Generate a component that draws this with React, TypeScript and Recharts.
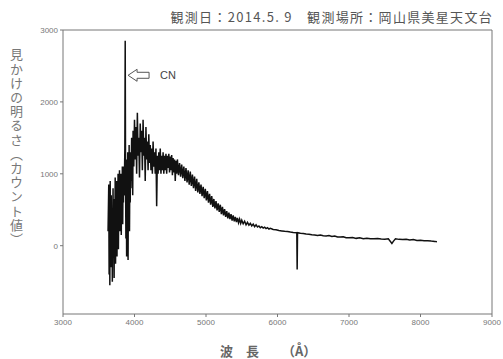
import { LineChart, Line, XAxis, YAxis, ReferenceLine, ReferenceDot } from "recharts";

// wavelength (Å) and apparent brightness (count)
const wavelengths = [
  3630, 3640, 3645, 3650, 3655, 3660, 3665, 3670, 3675, 3680, 3685, 3690, 3695,
  3700, 3705, 3710, 3715, 3720, 3725, 3730, 3735, 3740, 3745, 3750, 3755, 3760,
  3765, 3770, 3775, 3780, 3785, 3790, 3795, 3800, 3805, 3810, 3815, 3820, 3825,
  3830, 3835, 3840, 3845, 3850, 3855, 3860, 3865, 3870, 3875, 3880, 3885, 3890,
  3895, 3900, 3905, 3910, 3915, 3920, 3925, 3930, 3935, 3940, 3945, 3950, 3960,
  3965, 3970, 3975, 3980, 3990, 4000, 4010, 4020, 4030, 4040, 4050, 4060, 4070,
  4080, 4090, 4100, 4110, 4120, 4130, 4140, 4150, 4160, 4170, 4180, 4190, 4200,
  4210, 4220, 4230, 4240, 4250, 4260, 4270, 4280, 4290, 4300, 4310, 4320, 4330,
  4340, 4350, 4360, 4370, 4380, 4390, 4400, 4410, 4420, 4430, 4440, 4450, 4460,
  4470, 4480, 4490, 4500, 4510, 4520, 4530, 4540, 4550, 4560, 4570, 4580, 4590,
  4600, 4615, 4630, 4645, 4660, 4675, 4690, 4705, 4720, 4735, 4750, 4765, 4780,
  4795, 4810, 4825, 4840, 4855, 4870, 4885, 4900, 4915, 4930, 4945, 4960, 4975,
  4990, 5005, 5020, 5035, 5050, 5065, 5080, 5095, 5110, 5125, 5140, 5155, 5170,
  5185, 5200, 5215, 5230, 5245, 5260, 5275, 5290, 5305, 5320, 5335, 5350, 5365,
  5380, 5395, 5410, 5425, 5440, 5455, 5470, 5485, 5500, 5520, 5540, 5560, 5580,
  5600, 5620, 5640, 5660, 5680, 5700, 5720, 5740, 5760, 5780, 5800, 5820, 5840,
  5860, 5880, 5900, 5940, 5980, 6020, 6060, 6100, 6140, 6180, 6220, 6270, 6275,
  6280, 6320, 6360, 6400, 6440, 6480, 6520, 6560, 6600, 6640, 6680, 6720, 6760,
  6800, 6840, 6880, 6920, 6960, 7000, 7050, 7100, 7150, 7200, 7250, 7300, 7350,
  7400, 7450, 7500, 7550, 7600, 7620, 7650, 7700, 7750, 7800, 7850, 7900, 7950,
  8000, 8050, 8100, 8150, 8200, 8230,
];

const counts = [
  200, 850, -400, 600, -550, 900, 100, -300, 700, -200, 500, -500, 300,
  800, -100, 400, -450, 650, 0, 950, -250, 500, 200, 900, -150, 600,
  100, 1000, -50, 700, 300, 1050, 200, 800, 400, 1000, 150, 850, 500,
  1100, 300, 950, 600, 1100, 700, 1000, 1350, 2850, 900, 100, 1200, -150,
  800, 300, 1300, -200, 1000, 400, 1400, 200, 1100, 600, 1300, 800, 1500,
  900, 1400, 700, 1600, 1100, 1750, 1200, 1650, 1000, 1850, 1250, 1500, 950,
  1700, 1300, 1600, 1050, 1750, 1250, 1500, 900, 1650, 1200, 1450, 1050, 1550,
  1150, 1400, 1050, 1350, 1000, 1450, 1100, 1300, 1000, 1350, 550, 1250, 1000,
  1300, 1050, 1350, 1000, 1250, 1050, 1300, 1000, 1250, 1050, 1280, 1000, 1250,
  1080, 1280, 1020, 1240, 1050, 1260, 980, 1220, 1020, 1200, 900, 1180, 1000,
  1200, 980, 1150, 960, 1130, 940, 1100, 900, 1080, 880, 1050, 850, 1030,
  830, 990, 800, 960, 760, 930, 740, 880, 720, 850, 690, 820, 660,
  790, 630, 760, 600, 720, 570, 690, 540, 650, 520, 620, 490, 590,
  470, 570, 440, 540, 420, 510, 400, 480, 380, 460, 370, 440, 350,
  420, 340, 400, 330, 385, 320, 370, 310, 355, 305, 340, 290, 325,
  285, 310, 275, 300, 265, 290, 260, 275, 250, 265, 245, 258, 238,
  250, 232, 242, 225, 222, 212, 206, 200, 196, 190, 185, 180, -330,
  180, 172, 170, 162, 160, 152, 150, 142, 150, 138, 135, 140, 128,
  135, 122, 120, 125, 112, 110, 115, 102, 110, 98, 105, 96, 95,
  100, 92, 90, 95, 30, 60, 95, 88, 85, 90, 78, 85, 72,
  75, 68, 70, 64, 60, 55,
];

const xTicks = [3000, 4000, 5000, 6000, 7000, 8000, 9000];
const yTicks = [0, 1000, 2000, 3000];

const data = wavelengths.map((w, i) => ({ wavelength: w, count: counts[i] }));

const tickStyle = { fontSize: 8, fill: "#777", fontFamily: "Liberation Sans, sans-serif" };

// outlined arrow pointing at the CN band, with its label
function CnArrow(props: { cx?: number; cy?: number }) {
  const { cx = 0, cy = 0 } = props;
  const pts = [
    [0, 0], [9, -6], [9, -3], [21, -3], [21, 3], [9, 3], [9, 6],
  ]
    .map(([dx, dy]) => `${cx + dx},${cy + dy}`)
    .join(" ");
  return (
    <g>
      <polygon points={pts} fill="#fff" stroke="#555" strokeWidth={1} />
      <text
        x={cx + 32}
        y={cy + 4}
        fontSize={11}
        fill="#444"
        fontFamily="Liberation Sans, sans-serif"
      >
        CN
      </text>
    </g>
  );
}

export default function App() {
  return (
    <div style={{ position: "absolute", left: 0, top: 0, width: 503, height: 359, background: "#fff" }}>
      <div
        style={{
          position: "absolute",
          right: 10,
          top: 7,
          fontSize: 13,
          letterSpacing: 1.3,
          color: "#555",
          fontFamily: "Noto Sans CJK JP, sans-serif",
          whiteSpace: "nowrap",
        }}
      >
        観測日：2014.5. 9　観測場所：岡山県美星天文台
      </div>
      <div
        style={{
          position: "absolute",
          left: 9,
          top: 48,
          writingMode: "vertical-rl",
          fontSize: 13,
          letterSpacing: 1.2,
          lineHeight: "15px",
          color: "#777",
          fontFamily: "Noto Sans CJK JP, sans-serif",
        }}
      >
        見かけの明るさ（カウント値）
      </div>
      <div
        style={{
          position: "absolute",
          left: 220,
          top: 341,
          fontSize: 13,
          color: "#666",
          fontWeight: "bold",
          fontFamily: "Noto Sans CJK JP, sans-serif",
          whiteSpace: "nowrap",
        }}
      >
        波　長
      </div>
      <div
        style={{
          position: "absolute",
          left: 282,
          top: 341,
          fontSize: 13,
          color: "#666",
          fontWeight: "bold",
          fontFamily: "Noto Sans CJK JP, sans-serif",
          whiteSpace: "nowrap",
        }}
      >
        （Å）
      </div>
      <LineChart
        width={503}
        height={359}
        data={data}
        margin={{ top: 30, right: 11, bottom: 0, left: 0 }}
      >
        <XAxis
          dataKey="wavelength"
          type="number"
          domain={[3000, 9000]}
          ticks={xTicks}
          height={45}
          tickSize={3}
          stroke="#777"
          tick={tickStyle}
          interval={0}
        />
        <YAxis
          type="number"
          domain={[-950, 3000]}
          ticks={yTicks}
          width={63}
          tickSize={3}
          stroke="#777"
          tick={tickStyle}
          interval={0}
        />
        <ReferenceLine y={3000} stroke="#777" />
        <ReferenceLine x={9000} stroke="#777" />
        <Line
          type="linear"
          dataKey="count"
          stroke="#111"
          strokeWidth={1.5}
          dot={false}
          isAnimationActive={false}
        />
        <ReferenceDot x={3910} y={2370} shape={(p: any) => <CnArrow cx={p.cx} cy={p.cy} />} />
      </LineChart>
    </div>
  );
}
